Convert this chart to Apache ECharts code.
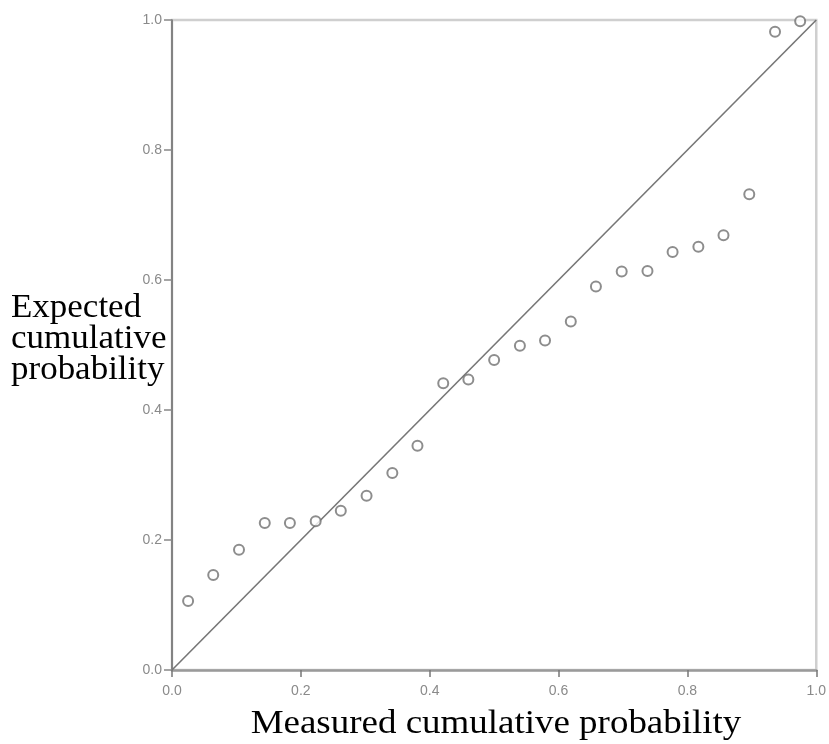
<!DOCTYPE html>
<html>
<head>
<meta charset="utf-8">
<script src="https://cdn.jsdelivr.net/npm/echarts@6/dist/echarts.min.js"></script>
<style>
  html, body { margin: 0; padding: 0; background: #fff; }
  #chart { width: 829px; height: 744px; }
</style>
</head>
<body>
<div id="chart"></div>
<script>
// P-P plot: measured vs expected cumulative probability (25 observations)
const measured = [
  0.025, 0.064, 0.104, 0.144, 0.183, 0.223, 0.262, 0.302, 0.342, 0.381,
  0.421, 0.460, 0.500, 0.540, 0.579, 0.619, 0.658, 0.698, 0.738, 0.777,
  0.817, 0.856, 0.896, 0.936, 0.975
];
const expected = [
  0.106, 0.146, 0.185, 0.226, 0.226, 0.229, 0.245, 0.268, 0.303, 0.345,
  0.441, 0.447, 0.477, 0.499, 0.507, 0.536, 0.590, 0.613, 0.614, 0.643,
  0.651, 0.669, 0.732, 0.982, 0.998
];
const referenceLine = [[0, 0], [1, 1]];
const tickValues = [0, 0.2, 0.4, 0.6, 0.8, 1.0];
const xTitle = 'Measured cumulative probability';
const yTitleLines = ['Expected', 'cumulative', 'probability'];

const points = measured.map((m, i) => [m, expected[i]]);

const chart = echarts.init(document.getElementById('chart'), null, { renderer: 'canvas' });

const tickLabel = {
  color: '#8a8a8a',
  fontSize: 14,
  fontFamily: '"Liberation Sans", Arial, sans-serif',
  formatter: v => tickValues.includes(+v.toFixed(1)) ? v.toFixed(1) : ''
};

chart.setOption({
  backgroundColor: '#fff',
  animation: false,
  grid: {
    left: 172, right: 9, top: 20, bottom: 74,
    show: true,
    borderColor: '#cfcfcf',
    borderWidth: 2.5,
    backgroundColor: 'transparent'
  },
  xAxis: {
    type: 'value', min: 0, max: 1, interval: 0.2,
    axisLine: { show: true, lineStyle: { color: '#9a9a9a', width: 2.5 } },
    axisTick: { show: true, length: 7, lineStyle: { color: '#777', width: 1.5 } },
    axisLabel: Object.assign({ margin: 14 }, tickLabel),
    splitLine: { show: false }
  },
  yAxis: {
    type: 'value', min: 0, max: 1, interval: 0.2,
    axisLine: { show: true, lineStyle: { color: '#6a6a6a', width: 1.5 } },
    axisTick: { show: true, length: 8, lineStyle: { color: '#888', width: 1.5 } },
    axisLabel: Object.assign({ margin: 10 }, tickLabel),
    splitLine: { show: false }
  },
  series: [
    {
      type: 'line',
      data: referenceLine,
      symbol: 'none',
      lineStyle: { color: '#767676', width: 1.6 },
      silent: true,
      z: 3
    },
    {
      type: 'scatter',
      data: points,
      symbol: 'emptyCircle',
      symbolSize: 10,
      itemStyle: { color: '#707070', borderWidth: 1.3 },
      z: 4
    }
  ],
  graphic: [
    {
      type: 'text',
      x: 496, y: 724,
      scaleX: 1.12,
      style: {
        text: xTitle,
        fill: '#000',
        font: '33px "Liberation Serif", "Times New Roman", serif',
        textAlign: 'center',
        textVerticalAlign: 'middle'
      }
    },
    {
      type: 'text',
      x: 11, y: 293,
      scaleX: 1.06,
      style: {
        text: yTitleLines.join('\n'),
        fill: '#000',
        font: '33px "Liberation Serif", "Times New Roman", serif',
        lineHeight: 31,
        textAlign: 'left',
        textVerticalAlign: 'top'
      }
    }
  ]
});
</script>
</body>
</html>
